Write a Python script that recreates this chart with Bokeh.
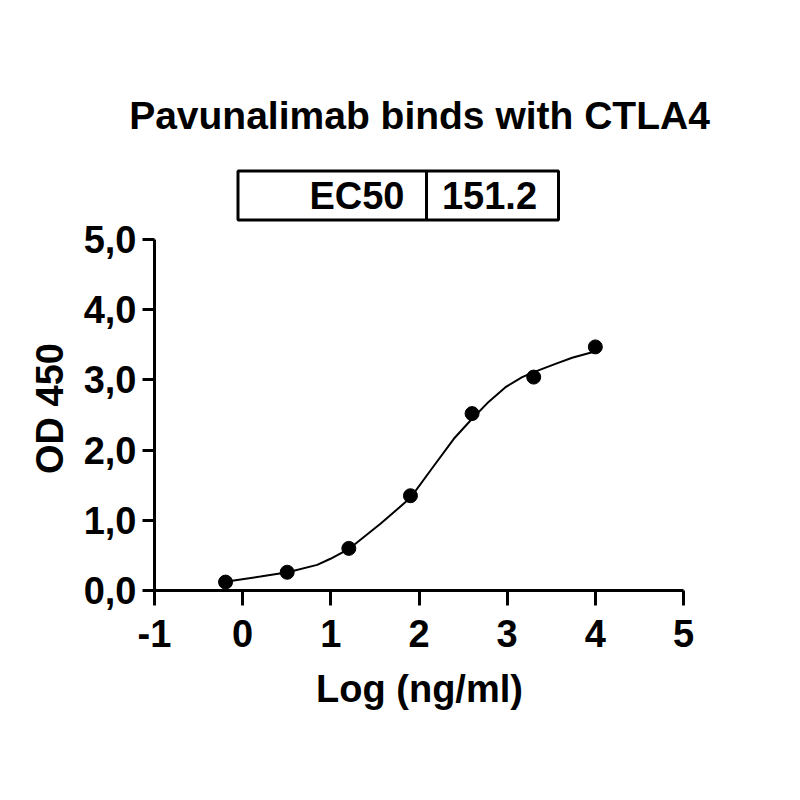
import math
from bokeh.plotting import figure
from bokeh.models import Range1d, FixedTicker, LinearAxis
from bokeh.core.properties import value
from bokeh.embed import file_html
from bokeh.resources import INLINE

# measured points, log10 of a 5-fold dilution series
log_conc = [-0.194, 0.505, 1.204, 1.903, 2.602, 3.301, 4.0]
od450 = [0.12, 0.26, 0.60, 1.35, 2.52, 3.04, 3.47]

# fitted curve
fit_x = [-0.187, -0.101, 0.202, 0.512, 0.845, 0.996, 1.212, 1.563, 1.903, 2.130,
         2.395, 2.584, 2.792, 2.981, 3.170, 3.302, 3.548, 3.737, 3.964, 4.0]
fit_y = [0.121, 0.142, 0.199, 0.261, 0.365, 0.452, 0.598, 0.950, 1.320, 1.709,
         2.161, 2.422, 2.690, 2.896, 3.039, 3.110, 3.229, 3.315, 3.395, 3.405]

title_text = "Pavunalimab binds with CTLA4"
x_title = "Log (ng/ml)"
y_title = "OD 450"
ec50_label = "EC50"
ec50_value = "151.2"

x_ticks = [-1, 0, 1, 2, 3, 4, 5]
x_tick_labels = ["-1", "0", "1", "2", "3", "4", "5"]
y_ticks = [0, 1, 2, 3, 4, 5]
y_tick_labels = ["0,0", "1,0", "2,0", "3,0", "4,0", "5,0"]

W = H = 784
# plot area in canvas pixels: x -1..5 -> 154..683, y 0..5 -> 590..239
PX_L, PX_R, PY_B, PY_T = 154, 683, 590, 239
sx = 6 / (PX_R - PX_L)
sy = 5 / (PY_B - PY_T)


def cx(px):
    return -1 + (px - PX_L) * sx


def cy(py):
    return (PY_B - py) * sy


FONT = value("Liberation Sans")
FS = "38px"

p = figure(width=W, height=H, output_backend="svg", toolbar_location=None,
           x_range=Range1d(cx(0), cx(W)), y_range=Range1d(cy(H), cy(0)),
           x_axis_type=None, y_axis_type=None, min_border=0)
p.outline_line_color = None
p.grid.visible = False

xaxis = LinearAxis(fixed_location=0, bounds=(-1, 5), ticker=FixedTicker(ticks=x_ticks),
                   major_label_overrides=dict(zip(x_ticks, x_tick_labels)))
yaxis = LinearAxis(fixed_location=-1, bounds=(0, 5), ticker=FixedTicker(ticks=y_ticks),
                   major_label_overrides=dict(zip(y_ticks, y_tick_labels)))
for ax in (xaxis, yaxis):
    ax.axis_line_width = 3
    ax.axis_line_color = "black"
    ax.major_tick_line_width = 3
    ax.major_tick_line_color = "black"
    ax.major_tick_in = 0
    ax.minor_tick_line_color = None
    ax.major_label_text_font = "Liberation Sans"
    ax.major_label_text_font_style = "bold"
    ax.major_label_text_font_size = FS
    ax.major_label_text_color = "black"
xaxis.major_tick_out = 15
yaxis.major_tick_out = 12
xaxis.major_label_standoff = 14
yaxis.major_label_standoff = 6
p.add_layout(xaxis, "below")
p.add_layout(yaxis, "left")


def put_text(x, y, txt, size=FS, align="center", angle=0.0):
    p.text(x=[x], y=[y], text=[txt], angle=angle, text_align=align,
           text_baseline="middle", text_font=FONT, text_font_style="bold",
           text_font_size=size, text_color="black")


# axis titles
put_text(cx(419), cy(688), x_title)
put_text(cx(49), cy(408), y_title, angle=math.pi / 2)

# chart title
put_text(cx(419), cy(115), title_text, size="39px")

# EC50 table
p.quad(left=[cx(237.5)], right=[cx(558)], top=[cy(170.5)], bottom=[cy(219.5)],
       fill_color=None, line_color="black", line_width=3)
p.segment(x0=[cx(426)], y0=[cy(170.5)], x1=[cx(426)], y1=[cy(219.5)],
          line_color="black", line_width=3)
put_text(cx(404), cy(195), ec50_label, align="right")
put_text(cx(489), cy(195), ec50_value)

# data
p.line(fit_x, fit_y, line_color="black", line_width=2)
p.scatter(log_conc, od450, size=14, color="black")

open("out.html", "w").write(file_html(p, INLINE))
